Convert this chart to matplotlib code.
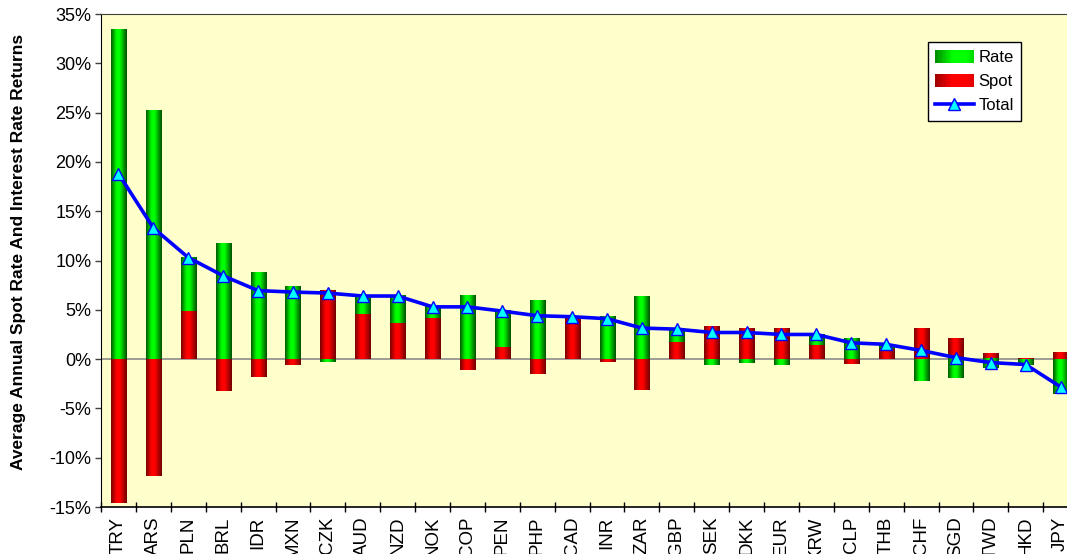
import numpy as np
import matplotlib
matplotlib.use("Agg")
from matplotlib import pyplot as plt
from matplotlib.colors import LinearSegmentedColormap
from matplotlib.legend_handler import HandlerBase
from matplotlib.patches import Rectangle, Patch
from matplotlib.lines import Line2D
from matplotlib.ticker import FuncFormatter, FixedLocator

plt.rcParams['font.family'] = ['Liberation Sans', 'DejaVu Sans']

# values in percent
currencies = ['TRY', 'ARS', 'PLN', 'BRL', 'IDR', 'MXN', 'CZK', 'AUD', 'NZD', 'NOK',
              'COP', 'PEN', 'PHP', 'CAD', 'INR', 'ZAR', 'GBP', 'SEK', 'DKK', 'EUR',
              'KRW', 'CLP', 'THB', 'CHF', 'SGD', 'TWD', 'HKD', 'JPY']
rate = [33.4, 25.25, 5.4, 11.7, 8.8, 7.4, -0.25, 1.85, 2.8, 1.15,
        6.45, 3.7, 5.95, 0.1, 4.35, 6.3, 1.28, -0.55, -0.35, -0.55,
        1.05, 2.1, 0.5, -2.2, -1.95, -0.95, -0.6, -3.5]
spot = [-14.6, -11.9, 4.9, -3.2, -1.8, -0.58, 6.95, 4.6, 3.65, 4.2,
        -1.1, 1.2, -1.55, 4.2, -0.25, -3.15, 1.76, 3.25, 3.05, 3.05,
        1.42, -0.45, 1.0, 3.05, 2.1, 0.6, 0.05, 0.7]
total = [18.8, 13.3, 10.3, 8.45, 6.95, 6.8, 6.7, 6.4, 6.4, 5.3,
         5.3, 4.87, 4.4, 4.3, 4.1, 3.15, 3.04, 2.7, 2.7, 2.5,
         2.5, 1.65, 1.5, 0.88, 0.15, -0.35, -0.55, -2.82]

green_cmap = LinearSegmentedColormap.from_list(
    'g', [(0.0, '#005a00'), (0.35, '#00ff00'), (0.55, '#00ff00'), (1.0, '#005000')])
red_cmap = LinearSegmentedColormap.from_list(
    'r', [(0.0, '#780000'), (0.35, '#ff0000'), (0.55, '#ff0000'), (1.0, '#700000')])


class GradientHandler(HandlerBase):
    def __init__(self, cmap):
        super().__init__()
        self.cmap = cmap

    def create_artists(self, legend, orig_handle, xdescent, ydescent, width, height, fontsize, trans):
        n = 24
        arts = []
        for i in range(n):
            arts.append(Rectangle((-xdescent + i * width / n, -ydescent), width / n + 0.3, height,
                                  facecolor=self.cmap(0.1 + 0.55 * (i + 0.5) / n), edgecolor='none',
                                  transform=trans))
        return arts


def gradient_fill(ax, bars, cmap):
    grad = np.linspace(0, 1, 64).reshape(1, -1)
    for p in bars:
        x0, y0, w, h = p.get_x(), p.get_y(), p.get_width(), p.get_height()
        if h == 0:
            continue
        ax.imshow(grad, extent=[x0, x0 + w, y0, y0 + h], aspect='auto', cmap=cmap,
                  interpolation='bilinear', zorder=2)
        p.set_visible(False)


fig = plt.figure(figsize=(10.67, 5.54), dpi=100)
ax = fig.add_axes([0.0947, 0.0848, 0.9157, 0.8899])
ax.set_facecolor('#ffffcc')

x = np.arange(len(currencies))
rate_a = np.array(rate)
spot_a = np.array(spot)
# spot sits at the bottom; rate stacks on it when signs agree
rate_bottom = np.where(np.sign(rate_a) == np.sign(spot_a), spot_a, 0.0)

width = 0.43
ax.axhline(0, color='#8c8c8c', lw=1.2, zorder=1)
spot_bars = ax.bar(x, spot_a, width=width, color='red', zorder=2)
rate_bars = ax.bar(x, rate_a, width=width, bottom=rate_bottom, color='lime', zorder=2)
gradient_fill(ax, spot_bars, red_cmap)
gradient_fill(ax, rate_bars, green_cmap)

ax.plot(x, total, color='#0000ff', lw=2.6, marker='^', markersize=8,
        markerfacecolor='#00ffff', markeredgecolor='#0000ff', markeredgewidth=1.0, zorder=4)

ax.set_xlim(-0.5, len(currencies) - 0.5)
ax.set_ylim(-15, 35)
ax.set_yticks(np.arange(-15, 36, 5))
ax.yaxis.set_major_formatter(FuncFormatter(lambda v, pos: f"{v:.0f}%"))
ax.tick_params(axis='y', direction='out', length=4, width=1, color='#404040',
               labelsize=13, pad=3)

ax.set_xticks(x)
ax.set_xticklabels(currencies, rotation=90, va='top', ha='center')
ax.tick_params(axis='x', which='major', length=0, labelsize=13.5, pad=7)
ax.xaxis.set_minor_locator(FixedLocator(np.arange(-0.5, len(currencies), 1.0)))
ax.tick_params(axis='x', which='minor', direction='inout', length=7, width=1, color='black')

ax.spines['left'].set_color('black')
ax.spines['bottom'].set_color('black')
ax.spines['bottom'].set_linewidth(1.2)
ax.spines['top'].set_color('#404040')
ax.spines['right'].set_visible(False)

fig.text(0.017, 0.545, 'Average Annual Spot Rate And Interest Rate Returns',
         rotation=90, ha='center', va='center', fontsize=12.5, fontweight='bold')

h_rate = Patch(facecolor='lime')
h_spot = Patch(facecolor='red')
h_total = Line2D([], [], color='#0000ff', lw=2.6, marker='^', markersize=8,
                 markerfacecolor='#00ffff', markeredgecolor='#0000ff')
leg = ax.legend([h_rate, h_spot, h_total], ['Rate', 'Spot', 'Total'],
                handler_map={h_rate: GradientHandler(green_cmap), h_spot: GradientHandler(red_cmap)},
                loc='upper right', bbox_to_anchor=(0.942, 0.943), borderaxespad=0,
                fancybox=False, edgecolor='black', framealpha=1, facecolor='white',
                fontsize=12, handlelength=2.3, handleheight=0.9, labelspacing=0.5,
                handletextpad=0.3, borderpad=0.45)
leg.get_frame().set_linewidth(1.0)
leg.set_zorder(5)

fig.savefig('out.png', dpi=100)
